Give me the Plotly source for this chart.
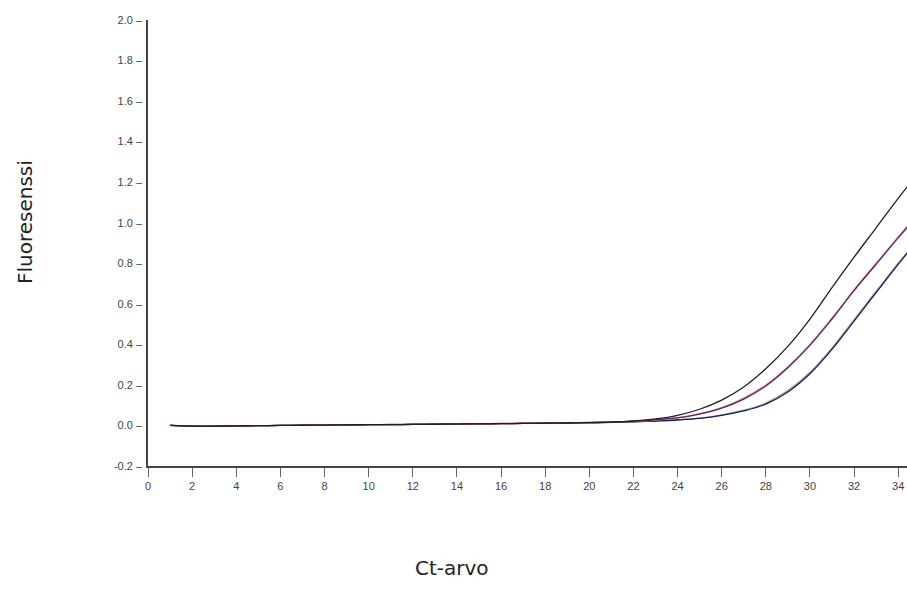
import plotly.graph_objects as go

cycles = list(range(1, 36))

top_black = [0.000, -0.003, -0.003, -0.002, -0.001, 0.000, 0.001, 0.002, 0.003, 0.004,
             0.004, 0.005, 0.006, 0.007, 0.008, 0.009, 0.010, 0.011, 0.012, 0.014,
             0.016, 0.022, 0.032, 0.050, 0.080, 0.125, 0.190, 0.280, 0.390, 0.525,
             0.680, 0.830, 0.975, 1.120, 1.260]
mid_pink = [0.000, -0.003, -0.003, -0.002, -0.001, 0.000, 0.001, 0.002, 0.003, 0.004,
            0.004, 0.005, 0.006, 0.007, 0.008, 0.009, 0.010, 0.011, 0.012, 0.014,
            0.016, 0.020, 0.027, 0.038, 0.058, 0.088, 0.135, 0.200, 0.290, 0.400,
            0.530, 0.670, 0.800, 0.930, 1.060]
mid_purple = [0.000, -0.004, -0.004, -0.002, -0.001, 0.000, 0.001, 0.002, 0.003, 0.004,
              0.005, 0.006, 0.007, 0.008, 0.009, 0.010, 0.011, 0.012, 0.013, 0.015,
              0.017, 0.021, 0.028, 0.037, 0.056, 0.085, 0.130, 0.195, 0.285, 0.395,
              0.525, 0.665, 0.795, 0.925, 1.050]
low_navy = [0.000, -0.004, -0.004, -0.003, -0.001, 0.000, 0.001, 0.002, 0.003, 0.004,
            0.004, 0.005, 0.006, 0.007, 0.008, 0.009, 0.010, 0.011, 0.012, 0.013,
            0.015, 0.018, 0.022, 0.027, 0.035, 0.050, 0.072, 0.105, 0.165, 0.255,
            0.375, 0.515, 0.655, 0.795, 0.925]
low_grey = [0.000, -0.003, -0.003, -0.002, -0.001, 0.000, 0.001, 0.002, 0.003, 0.004,
            0.004, 0.005, 0.006, 0.007, 0.008, 0.009, 0.010, 0.011, 0.012, 0.013,
            0.015, 0.018, 0.022, 0.028, 0.036, 0.052, 0.075, 0.110, 0.172, 0.262,
            0.383, 0.522, 0.662, 0.800, 0.930]

series = [
    ("low_grey", low_grey, "#9a9aa8"),
    ("low_navy", low_navy, "#1c1f4e"),
    ("mid_pink", mid_pink, "#d9899c"),
    ("mid_purple", mid_purple, "#5b2463"),
    ("top_black", top_black, "#2b1b1b"),
]

x_ticks = list(range(0, 36, 2))
y_ticks = [round(-0.2 + 0.2 * i, 1) for i in range(12)]

fig = go.Figure()
for name, vals, col in series:
    fig.add_trace(go.Scatter(x=cycles, y=vals, mode="lines", name=name,
                             line=dict(color=col, width=1.3, shape="spline", smoothing=1.0),
                             showlegend=False))

fig.update_layout(
    width=907, height=606,
    margin=dict(l=148, r=0, t=20, b=140),
    plot_bgcolor="white", paper_bgcolor="white",
    font=dict(family="Liberation Sans, Arial", size=11, color="#444"),
)
fig.update_xaxes(range=[0, 34.4], tickvals=x_ticks, ticktext=[str(v) for v in x_ticks],
                 showgrid=False, zeroline=False, showline=True, linecolor="#444",
                 linewidth=1.5, ticks="outside", ticklen=9, tickcolor="#666",
                 tickfont=dict(size=11, color="#444"))
fig.update_yaxes(range=[-0.2, 2.0], tickvals=y_ticks,
                 ticktext=[f"{v:.1f} \u2013" for v in y_ticks],
                 showgrid=False, zeroline=False, showline=True, linecolor="#444",
                 linewidth=1.5, ticks="", ticklabelstandoff=2,
                 tickfont=dict(size=11, color="#444"))

fig.add_annotation(text="Fluoresenssi", xref="paper", yref="paper",
                   x=-0.162, y=0.547, xanchor="center", yanchor="middle",
                   showarrow=False, textangle=-90,
                   font=dict(family="DejaVu Sans", size=20, color="#222"))
fig.add_annotation(text="Ct-arvo", xref="paper", yref="paper",
                   x=0.4005, y=-0.2287, xanchor="center", yanchor="middle",
                   showarrow=False,
                   font=dict(family="DejaVu Sans", size=20, color="#222"))

fig.write_html("out.html")
